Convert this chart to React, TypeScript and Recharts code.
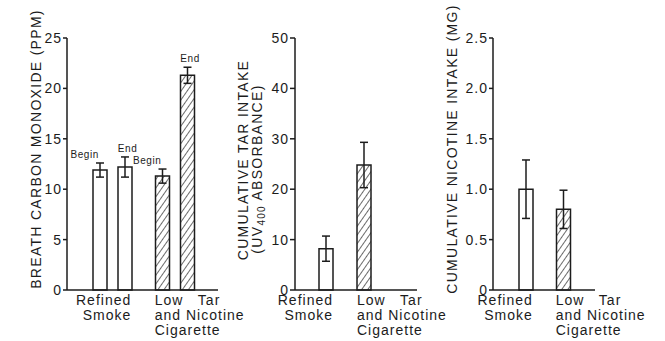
import { Bar, BarChart, Cell, ErrorBar, XAxis, YAxis } from "recharts";

const INK = "#1c1c1c";
const FONT = "'Liberation Sans', Arial, Helvetica, sans-serif";

// the two smoking conditions, label lines split by \n
const groups = ["Refined\nSmoke", "Low   Tar\nand Nicotine\nCigarette"];
const sessionLabels = ["Begin", "End"];

// breath CO (ppm) at begin / end of session
const coBegin = [11.9, 11.3];
const coBeginErr = [0.7, 0.7];
const coEnd = [12.2, 21.3];
const coEndErr = [1.0, 0.8];

// cumulative tar intake (UV400 absorbance)
const tar = [8.2, 24.8];
const tarErr = [2.5, 4.5];

// cumulative nicotine intake (mg)
const nicotine = [1.0, 0.8];
const nicotineErr = [0.29, 0.19];

const coTicks = [0, 5, 10, 15, 20, 25];
const tarTicks = [0, 10, 20, 30, 40, 50];
const nicTicks = [0, 0.5, 1, 1.5, 2, 2.5];

const H = 341;
const TOP = 38;
const XH = 51;
const PLOT_H = H - TOP - XH;

const coData = groups.map((name, i) => ({
  name,
  begin: coBegin[i],
  beginErr: coBeginErr[i],
  end: coEnd[i],
  endErr: coEndErr[i],
}));
const tarData = groups.map((name, i) => ({ name, v: tar[i], err: tarErr[i] }));
const nicData = groups.map((name, i) => ({ name, v: nicotine[i], err: nicotineErr[i] }));

const txt = { fill: INK, fontFamily: FONT, fontSize: 14, letterSpacing: 1 };

function Hatch({ id }: { id: string }) {
  return (
    <defs>
      <pattern id={id} patternUnits="userSpaceOnUse" width={5} height={5} patternTransform="rotate(35)">
        <rect width={5} height={5} fill="#fff" />
        <line x1={0} y1={0} x2={0} y2={5} stroke={INK} strokeWidth={1.3} />
      </pattern>
    </defs>
  );
}

const yTick = (fmt: (v: number) => string) => (p: any) => (
  <text x={p.x} y={p.y} dy={5} textAnchor="end" {...txt}>
    {fmt(p.payload.value)}
  </text>
);

// refined label sits right-aligned, low tar label left-aligned
const xTick = (endDx: number, startDx: number) => (p: any) => {
  const i = p.index ?? p.payload.index;
  const lines = String(p.payload.value).split("\n");
  const first = i === 0;
  return (
    <text
      x={p.x + (first ? endDx : startDx)}
      y={p.y}
      textAnchor={first ? "end" : "start"}
      style={{ whiteSpace: "pre" }}
      {...txt}
    >
      {lines.map((l, k) => (
        <tspan key={k} x={p.x + (first ? endDx : startDx)} dy={15}>
          {l}
        </tspan>
      ))}
    </text>
  );
};

const sideLabel = (x: number, y: number, lines: React.ReactNode[]) => () => (
  <g>
    {lines.map((l, k) => (
      <text
        key={k}
        x={x + k * 14}
        y={y + k * 9}
        transform={`rotate(-90 ${x + k * 14} ${y + k * 9})`}
        textAnchor="middle"
        fill={INK}
        fontFamily={FONT}
        fontSize={14}
        letterSpacing={1.3}
      >
        {l}
      </text>
    ))}
  </g>
);

const sessionLabel = (text: string, errs: number[], dx: number, anchor: "end" | "middle") => (p: any) => {
  const errPx = (errs[p.index] / 25) * PLOT_H;
  return (
    <text
      x={p.x + p.width / 2 + dx}
      y={p.y - errPx - 5}
      textAnchor={anchor}
      fill={INK}
      fontFamily={FONT}
      fontSize={10}
      letterSpacing={0.6}
    >
      {text}
    </text>
  );
};

const fills = ["#fff", ""];
const barStyle = { stroke: INK, strokeWidth: 1.5 };
const axisLine = { stroke: INK, strokeWidth: 1.5 };

export default function App() {
  return (
    <div style={{ position: "absolute", left: 0, top: 0, width: 665, height: H, background: "#fff" }}>
      <style>{`.recharts-wrapper, .recharts-surface { overflow: visible !important; }`}</style>
      <div style={{ position: "absolute", left: 0, top: 0 }}>
        <BarChart width={222} height={H} data={coData} margin={{ top: TOP, right: 4, left: 0, bottom: 0 }} barSize={14} barGap={11}>
          <Hatch id="hatchCo" />
          <XAxis dataKey="name" height={XH} interval={0} tickLine={false} tickSize={0} tickMargin={0} axisLine={axisLine} padding={{ left: 14, right: 12 }} tick={xTick(19, -20)} />
          <YAxis
            width={67}
            domain={[0, 25]}
            ticks={coTicks}
            interval={0}
            tickSize={4}
            tickMargin={1}
            tickLine={axisLine}
            axisLine={axisLine}
            tick={yTick((v) => String(v))}
            label={{ content: sideLabel(41, 149, ["BREATH CARBON MONOXIDE (PPM)"]) }}
          />
          <Bar dataKey="begin" {...barStyle} isAnimationActive={false} label={sessionLabel(sessionLabels[0], coBeginErr, -1, "end")}>
            {coData.map((_, i) => (
              <Cell key={i} fill={fills[i] || "url(#hatchCo)"} />
            ))}
            <ErrorBar dataKey="beginErr" width={4} stroke={INK} strokeWidth={1.5} />
          </Bar>
          <Bar dataKey="end" {...barStyle} isAnimationActive={false} label={sessionLabel(sessionLabels[1], coEndErr, 2.5, "middle")}>
            {coData.map((_, i) => (
              <Cell key={i} fill={fills[i] || "url(#hatchCo)"} />
            ))}
            <ErrorBar dataKey="endErr" width={4} stroke={INK} strokeWidth={1.5} />
          </Bar>
        </BarChart>
      </div>

      <div style={{ position: "absolute", left: 222, top: 0 }}>
        <BarChart width={200} height={H} data={tarData} margin={{ top: TOP, right: 5, left: 0, bottom: 0 }} barSize={14}>
          <Hatch id="hatchTar" />
          <XAxis dataKey="name" height={XH} interval={0} tickLine={false} tickSize={0} tickMargin={0} axisLine={axisLine} padding={{ left: 12, right: 34 }} tick={xTick(7, -7)} />
          <YAxis
            width={73}
            domain={[0, 50]}
            ticks={tarTicks}
            interval={0}
            tickSize={5}
            tickMargin={1}
            tickLine={axisLine}
            axisLine={axisLine}
            tick={yTick((v) => String(v))}
            label={{
              content: sideLabel(26, 160, [
                "CUMULATIVE TAR INTAKE",
                <>
                  <tspan>(UV</tspan>
                  <tspan fontSize={10} dy={3}>400</tspan>
                  <tspan dy={-3}> ABSORBANCE)</tspan>
                </>,
              ]),
            }}
          />
          <Bar dataKey="v" {...barStyle} isAnimationActive={false}>
            {tarData.map((_, i) => (
              <Cell key={i} fill={fills[i] || "url(#hatchTar)"} />
            ))}
            <ErrorBar dataKey="err" width={4} stroke={INK} strokeWidth={1.5} />
          </Bar>
        </BarChart>
      </div>

      <div style={{ position: "absolute", left: 422, top: 0 }}>
        <BarChart width={243} height={H} data={nicData} margin={{ top: TOP, right: 70, left: 0, bottom: 0 }} barSize={14}>
          <Hatch id="hatchNic" />
          <XAxis dataKey="name" height={XH} interval={0} tickLine={false} tickSize={0} tickMargin={0} axisLine={axisLine} padding={{ left: 14, right: 13 }} tick={xTick(7, -7.5)} />
          <YAxis
            width={71}
            domain={[0, 2.5]}
            ticks={nicTicks}
            interval={0}
            tickSize={4}
            tickMargin={1}
            tickLine={axisLine}
            axisLine={axisLine}
            tick={yTick((v) => (v === 0 ? "0" : v.toFixed(1)))}
            label={{ content: sideLabel(35, 149, ["CUMULATIVE NICOTINE INTAKE (MG)"]) }}
          />
          <Bar dataKey="v" {...barStyle} isAnimationActive={false}>
            {nicData.map((_, i) => (
              <Cell key={i} fill={fills[i] || "url(#hatchNic)"} />
            ))}
            <ErrorBar dataKey="err" width={4} stroke={INK} strokeWidth={1.5} />
          </Bar>
        </BarChart>
      </div>
    </div>
  );
}
